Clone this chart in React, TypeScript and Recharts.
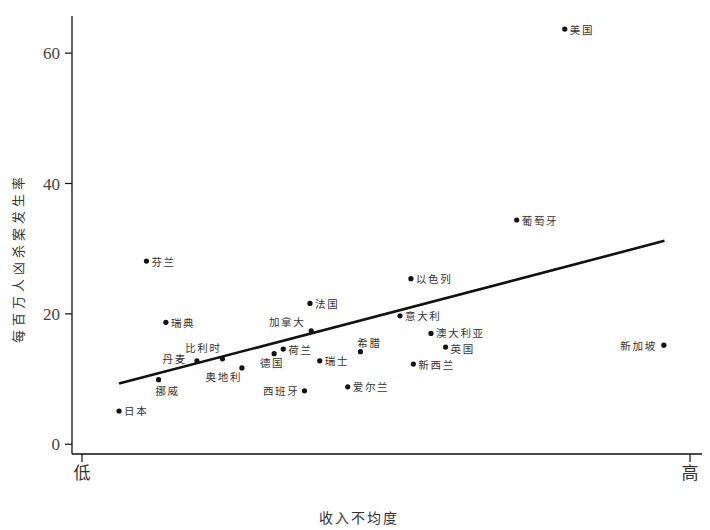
import React from "react";
import { ScatterChart, Scatter, XAxis, YAxis } from "recharts";

// countries, inequality position (0 = 低, 100 = 高), homicides per million
const countries = [
  "美国", "葡萄牙", "芬兰", "以色列", "法国", "瑞典", "意大利", "加拿大",
  "澳大利亚", "英国", "新加坡", "希腊", "荷兰", "德国", "瑞士", "比利时",
  "丹麦", "新西兰", "奥地利", "挪威", "爱尔兰", "西班牙", "日本",
];
const inequality = [
  79.4, 71.5, 10.6, 54.1, 37.5, 13.8, 52.3, 37.7,
  57.4, 59.8, 95.7, 45.8, 33.1, 31.6, 39.1, 23.1,
  18.9, 54.5, 26.3, 12.6, 43.7, 36.6, 6.1,
];
const homicideRate = [
  63.7, 34.4, 28.1, 25.4, 21.6, 18.7, 19.7, 17.4,
  17.0, 14.9, 15.2, 14.2, 14.6, 13.9, 12.8, 13.1,
  12.8, 12.3, 11.7, 9.9, 8.8, 8.2, 5.1,
];

// fitted trend line end points
const trendX = [6.1, 95.8];
const trendY = [9.3, 31.2];

const xTicks = [0, 100];
const xTickLabels = ["低", "高"];
const yTicks = [0, 20, 40, 60];

const points = countries.map((name, i) => ({ name, x: inequality[i], y: homicideRate[i] }));
const trend = trendX.map((x, i) => ({ x, y: trendY[i] }));

// label placement relative to the dot: [anchor, dx, dy]; default is to the right
const labelPlacement: Record<string, [string, number, number]> = {
  加拿大: ["middle", -24, -9],
  比利时: ["middle", -19, -11],
  丹麦: ["end", -10, -2],
  德国: ["middle", -2, 9],
  奥地利: ["middle", -18, 9],
  希腊: ["middle", 9, -9],
  挪威: ["middle", 9, 11],
  西班牙: ["end", -5, 0],
  新加坡: ["end", -7, 0],
  澳大利亚: ["start", 5, -1],
  英国: ["start", 5, 1],
};

const cjk = "'Noto Sans CJK SC', 'Noto Sans CJK JP', sans-serif";
const serif = "'Liberation Serif', 'DejaVu Serif', serif";

const DotWithLabel = (props: any) => {
  const { cx, cy, payload } = props;
  if (cx == null || cy == null) return <g />;
  const [anchor, dx, dy] = labelPlacement[payload.name] ?? ["start", 5, 0];
  return (
    <g>
      <circle cx={cx} cy={cy} r={2.6} fill="#111" />
      <text
        x={cx + dx}
        y={cy + dy}
        textAnchor={anchor as any}
        dominantBaseline="central"
        fontSize={10.5}
        letterSpacing={1.7}
        fontFamily={cjk}
        fill="#333"
      >
        {payload.name}
      </text>
    </g>
  );
};

const YTitle = () => (
  <text
    x={17}
    y={258}
    transform="rotate(-90 17 258)"
    textAnchor="middle"
    dominantBaseline="central"
    fontSize={13}
    letterSpacing={4}
    fontFamily={cjk}
    fill="#333"
  >
    每百万人凶杀案发生率
  </text>
);

const XTitle = () => (
  <text
    x={359}
    y={517}
    textAnchor="middle"
    dominantBaseline="central"
    fontSize={14}
    letterSpacing={2}
    fontFamily={cjk}
    fill="#333"
  >
    收入不均度
  </text>
);

export default function App() {
  return (
    <div style={{ position: "absolute", left: 0, top: 0, width: 710, height: 530, background: "#fff" }}>
      <ScatterChart width={710} height={530} margin={{ top: 16, right: 8, left: 0, bottom: 0 }}>
        <XAxis
          dataKey="x"
          type="number"
          domain={[-1.64, 101.97]}
          allowDataOverflow
          ticks={xTicks}
          tickFormatter={(v: number) => xTickLabels[xTicks.indexOf(v)] ?? ""}
          height={76}
          tickSize={8}
          tickMargin={5}
          axisLine={{ stroke: "#111", strokeWidth: 1.3 }}
          tickLine={{ stroke: "#111", strokeWidth: 1.2 }}
          tick={{ fontSize: 17, fill: "#333", fontFamily: cjk }}
          label={<XTitle />}
        />
        <YAxis
          dataKey="y"
          type="number"
          domain={[-1.5, 65.7]}
          allowDataOverflow
          ticks={yTicks}
          width={72}
          tickSize={7}
          tickMargin={5}
          axisLine={{ stroke: "#111", strokeWidth: 1.3 }}
          tickLine={{ stroke: "#111", strokeWidth: 1.2 }}
          tick={{ fontSize: 17, fill: "#444", fontFamily: serif }}
          label={<YTitle />}
        />
        <XAxis
          xAxisId="top"
          orientation="top"
          type="number"
          domain={[0, 1]}
          height={0}
          tick={false}
          tickLine={false}
          axisLine={{ stroke: "#111", strokeWidth: 1.3 }}
        />
        <YAxis
          yAxisId="right"
          orientation="right"
          type="number"
          domain={[0, 1]}
          width={0}
          tick={false}
          tickLine={false}
          axisLine={{ stroke: "#111", strokeWidth: 1.3 }}
        />
        <Scatter
          data={trend}
          line={{ stroke: "#111", strokeWidth: 2.6 }}
          shape={() => <g />}
          isAnimationActive={false}
        />
        <Scatter data={points} shape={<DotWithLabel />} isAnimationActive={false} />
      </ScatterChart>
    </div>
  );
}
